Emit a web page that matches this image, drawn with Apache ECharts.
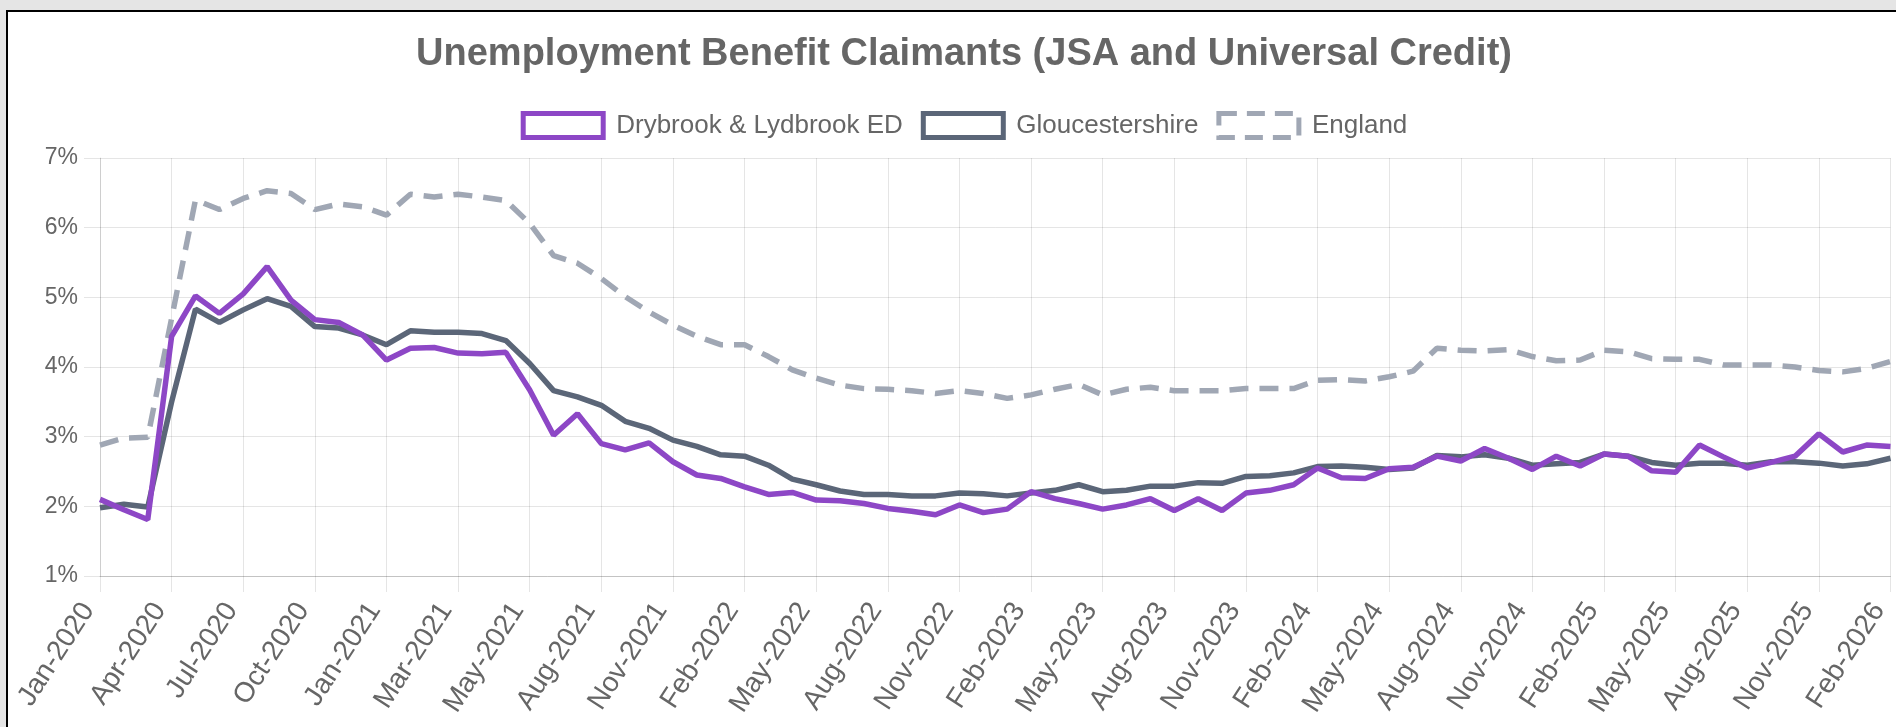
<!DOCTYPE html>
<html>
<head>
<meta charset="utf-8">
<title>Unemployment Benefit Claimants</title>
<script src="https://cdn.jsdelivr.net/npm/echarts@6/dist/echarts.min.js"></script>
<style>
  html, body { margin: 0; padding: 0; overflow: hidden; background: #e5e5e5; }
  #frame { position: absolute; left: 6px; top: 10px; width: 1914px; height: 730px; border-left: 2px solid #000; border-top: 2px solid #000; background: #fff; }
  #chart { width: 1912px; height: 715px; }
</style>
</head>
<body>
<div id="frame"><div id="chart"></div></div>
<script>
// months shown on the x axis (two months appear twice in the source data)
const months = [
  'Jan-2020', 'Feb-2020', 'Mar-2020', 'Apr-2020', 'May-2020', 'Jun-2020', 'Jul-2020', 'Aug-2020', 'Sep-2020', 'Oct-2020', 'Nov-2020', 'Dec-2020',
  'Jan-2021', 'Feb-2021', 'Feb-2021', 'Mar-2021', 'Apr-2021', 'Apr-2021', 'May-2021', 'Jun-2021', 'Jul-2021', 'Aug-2021', 'Sep-2021', 'Oct-2021', 'Nov-2021', 'Dec-2021',
  'Jan-2022', 'Feb-2022', 'Mar-2022', 'Apr-2022', 'May-2022', 'Jun-2022', 'Jul-2022', 'Aug-2022', 'Sep-2022', 'Oct-2022', 'Nov-2022', 'Dec-2022',
  'Jan-2023', 'Feb-2023', 'Mar-2023', 'Apr-2023', 'May-2023', 'Jun-2023', 'Jul-2023', 'Aug-2023', 'Sep-2023', 'Oct-2023', 'Nov-2023', 'Dec-2023',
  'Jan-2024', 'Feb-2024', 'Mar-2024', 'Apr-2024', 'May-2024', 'Jun-2024', 'Jul-2024', 'Aug-2024', 'Sep-2024', 'Oct-2024', 'Nov-2024', 'Dec-2024',
  'Jan-2025', 'Feb-2025', 'Mar-2025', 'Apr-2025', 'May-2025', 'Jun-2025', 'Jul-2025', 'Aug-2025', 'Sep-2025', 'Oct-2025', 'Nov-2025', 'Dec-2025',
  'Jan-2026', 'Feb-2026'
]

// claimant rate, %
const drybrook = [
  2.10, 1.95, 1.81, 4.44, 5.02, 4.77, 5.05, 5.44, 4.96, 4.68,
  4.64, 4.46, 4.10, 4.27, 4.28, 4.20, 4.19, 4.21, 3.67, 3.02,
  3.33, 2.90, 2.81, 2.91, 2.64, 2.45, 2.40, 2.28, 2.17, 2.20,
  2.09, 2.08, 2.04, 1.97, 1.93, 1.88, 2.02, 1.91, 1.96, 2.21,
  2.11, 2.04, 1.96, 2.02, 2.11, 1.94, 2.11, 1.94, 2.19, 2.23,
  2.31, 2.55, 2.41, 2.40, 2.54, 2.56, 2.72, 2.65, 2.83, 2.69,
  2.53, 2.72, 2.58, 2.75, 2.72, 2.51, 2.49, 2.88, 2.71, 2.55,
  2.63, 2.72, 3.04, 2.78, 2.88, 2.86
]
const gloucestershire = [
  1.98, 2.03, 1.99, 3.50, 4.83, 4.64, 4.82, 4.98, 4.87, 4.58,
  4.56, 4.46, 4.32, 4.52, 4.50, 4.50, 4.48, 4.38, 4.05, 3.66,
  3.57, 3.45, 3.22, 3.12, 2.95, 2.86, 2.74, 2.72, 2.59, 2.39,
  2.31, 2.22, 2.17, 2.17, 2.15, 2.15, 2.19, 2.18, 2.15, 2.19,
  2.23, 2.31, 2.21, 2.23, 2.29, 2.29, 2.34, 2.33, 2.43, 2.44,
  2.48, 2.57, 2.58, 2.56, 2.53, 2.55, 2.73, 2.71, 2.74, 2.69,
  2.59, 2.61, 2.63, 2.75, 2.72, 2.63, 2.59, 2.62, 2.62, 2.59,
  2.64, 2.64, 2.62, 2.58, 2.61, 2.69
]
const england = [
  2.88, 2.98, 2.99, 4.70, 6.40, 6.26, 6.42, 6.53, 6.49, 6.26,
  6.34, 6.30, 6.18, 6.48, 6.44, 6.48, 6.44, 6.39, 6.06, 5.60,
  5.49, 5.27, 5.01, 4.79, 4.60, 4.44, 4.32, 4.32, 4.15, 3.96,
  3.84, 3.74, 3.69, 3.68, 3.66, 3.62, 3.66, 3.62, 3.55, 3.60,
  3.68, 3.75, 3.60, 3.68, 3.71, 3.66, 3.66, 3.66, 3.69, 3.69,
  3.69, 3.81, 3.82, 3.80, 3.86, 3.94, 4.27, 4.24, 4.23, 4.25,
  4.15, 4.09, 4.10, 4.24, 4.22, 4.12, 4.11, 4.11, 4.03, 4.03,
  4.03, 4.00, 3.95, 3.93, 3.98, 4.08
]

const names = ['Drybrook & Lydbrook ED', 'Gloucestershire', 'England']
const colors = ['#8d47c6', '#5b6678', '#a0a7b4']
const dashes = ['solid', 'solid', [19, 11]]

const font = "'Liberation Sans', Arial, Helvetica, sans-serif"
const gridColor = 'rgba(0,0,0,0.1)'

const myChart = echarts.init(document.getElementById('chart'))

// chart.js draws the first dataset on top, so add series in reverse
const series = [england, gloucestershire, drybrook].map((data, k) => {
  const i = 2 - k
  return {
    name: names[i],
    type: 'line',
    data: data,
    symbol: 'none',
    z: 2 + k,
    lineStyle: { color: colors[i], width: 5.5, type: dashes[i] },
    itemStyle: { color: colors[i] }
  }
})

myChart.setOption({
  textStyle: { fontFamily: font },
  animation: false,
  title: {
    text: 'Unemployment Benefit Claimants (JSA and Universal Credit)',
    left: 'center',
    top: 24,
    padding: 0,
    textStyle: { fontFamily: font, fontSize: 38, fontWeight: 'bold', color: '#666' }
  },
  legend: {
    top: 99,
    left: 'center',
    padding: 0,
    itemWidth: 80,
    itemHeight: 24,
    itemGap: 18,
    textStyle: { fontFamily: font, fontSize: 26, color: '#666', padding: [0, 0, 0, 8] },
    data: names.map((n, i) => ({
      name: n,
      icon: 'rect',
      itemStyle: { color: '#fff', borderColor: colors[i], borderWidth: 5, borderType: i === 2 ? [18, 10] : 'solid' }
    }))
  },
  grid: { left: 92, right: 29.5, top: 146, bottom: 151, outerBoundsMode: 'none' },
  xAxis: {
    type: 'category',
    boundaryGap: false,
    data: months,
    axisLine: { lineStyle: { color: 'rgba(0,0,0,0.15)' } },
    axisTick: { show: true, interval: 2, length: 16, lineStyle: { color: gridColor } },
    // each label ends just left of its tick
    axisLabel: {
      interval: 2, rotate: 57, margin: 37, align: 'right', verticalAlign: 'bottom',
      color: '#666', fontSize: 28, fontFamily: font
    },
    splitLine: { show: true, interval: 2, lineStyle: { color: gridColor } }
  },
  yAxis: {
    type: 'value',
    min: 1,
    max: 7,
    interval: 1,
    axisLine: { show: true, lineStyle: { color: gridColor } },
    axisTick: { show: true, length: 16, lineStyle: { color: gridColor } },
    axisLabel: { formatter: '{value}%', margin: 22, color: '#666', fontSize: 23, fontFamily: font },
    splitLine: { show: true, lineStyle: { color: gridColor } }
  },
  series: series
})
</script>
</body>
</html>
